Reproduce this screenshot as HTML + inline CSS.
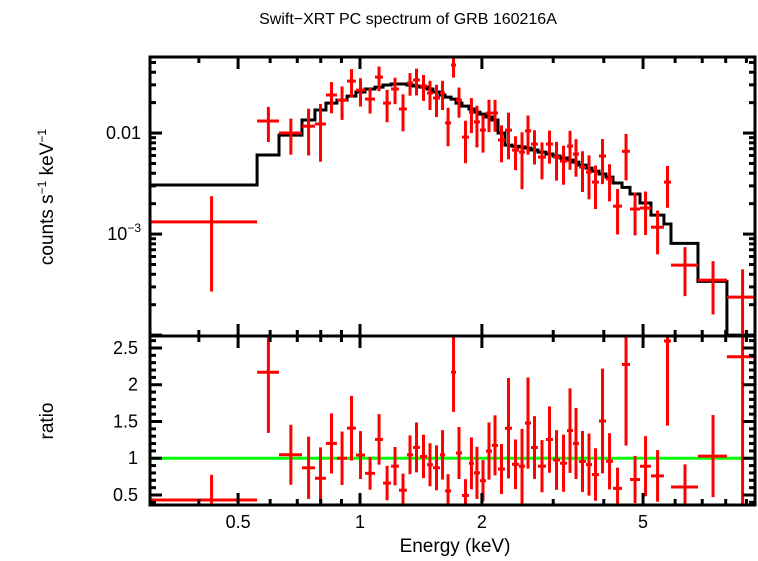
<!DOCTYPE html>
<html><head><meta charset="utf-8"><style>
body{margin:0;background:#fff;width:758px;height:556px;overflow:hidden}
svg{font-family:"Liberation Sans",sans-serif}
</style></head><body>
<svg id="chart" width="758" height="556" viewBox="0 0 758 556" xmlns="http://www.w3.org/2000/svg">
<text x="408" y="24" font-size="16" text-anchor="middle">Swift−XRT PC spectrum of GRB 160216A</text>
<text transform="translate(53,197) rotate(-90)" font-size="19" text-anchor="middle">counts s<tspan font-size="12" dy="-7">−1</tspan><tspan dy="7"> keV</tspan><tspan font-size="12" dy="-7">−1</tspan></text>
<text transform="translate(53,421) rotate(-90)" font-size="19" text-anchor="middle">ratio</text>
<text x="455" y="552" font-size="19" text-anchor="middle">Energy (keV)</text>
<g id="gtop"></g>
<g id="gbot"></g>
</svg>
<script>
// bin edges (keV), observed flux (counts/s/keV), 1-sigma error, model per bin
const binEdges=[0.303,0.557,0.631,0.719,0.774,0.824,0.877,0.929,0.977,1.029,1.089,1.140,1.193,1.248,1.306,1.352,1.406,1.464,1.514,1.576,1.622,1.678,1.726,1.786,1.858,1.911,1.978,2.047,2.118,2.192,2.280,2.373,2.470,2.555,2.644,2.751,2.879,2.996,3.118,3.245,3.357,3.473,3.614,3.740,3.892,4.050,4.215,4.436,4.642,4.914,5.230,5.631,5.861,6.833,8.056,9.555];
const fluxValues=[0.00132,0.01315,0.0100,0.0117,0.0123,0.0238,0.0212,0.0327,0.0266,0.0217,0.0358,0.0198,0.0273,0.0173,0.0313,0.0335,0.0292,0.0249,0.0222,0.0249,0.0126,0.0471,0.0212,0.00913,0.0161,0.0129,0.0107,0.0158,0.0158,0.00853,0.0107,0.00679,0.00648,0.0105,0.00778,0.00578,0.00778,0.00578,0.00528,0.00743,0.0062,0.00461,0.00411,0.00327,0.00592,0.00351,0.00189,0.0066,0.00177,0.00181,0.00117,0.00327,0.000493,0.00035,0.000238];
const fluxErrors=[0.00105,0.005,0.0039,0.0057,0.0071,0.0081,0.0077,0.0102,0.0083,0.0061,0.0098,0.007,0.008,0.0069,0.0079,0.0099,0.0084,0.008,0.0078,0.008,0.0052,0.0117,0.007,0.0041,0.0061,0.0057,0.0043,0.0056,0.0055,0.0034,0.0052,0.0025,0.0037,0.0044,0.0029,0.0023,0.0028,0.0024,0.0022,0.0031,0.0025,0.002,0.0019,0.0015,0.0028,0.0014,0.0009,0.0032,0.0008,0.00083,0.00054,0.00145,0.00025,0.00019,0.00021];
const modelValues=[0.00306,0.00606,0.00955,0.01345,0.0169,0.0198,0.0212,0.0232,0.0255,0.0273,0.0285,0.0299,0.0306,0.0306,0.0299,0.0292,0.0285,0.0273,0.0255,0.0238,0.0227,0.0217,0.0198,0.0185,0.0173,0.0161,0.0154,0.0144,0.01345,0.0100,0.0076,0.0074,0.00727,0.0071,0.00679,0.00648,0.0062,0.00592,0.00566,0.0054,0.00516,0.00482,0.0045,0.0042,0.00393,0.00366,0.0032,0.0029,0.00249,0.00203,0.00154,0.00126,0.00081,0.00034,0.0001];
const xTickLabels=[0.5,1,2,5];
const ratioTickLabels=[0.5,1,1.5,2,2.5];

const NS="http://www.w3.org/2000/svg";
const X0=150,X1=755,TY0=57,TY1=336,BY0=336,BY1=505;
const XMIN=0.303,XMAX=9.45,FMIN=9.8e-5,FMAX=0.0566,RMIN=0.364,RMAX=2.663;
const L=Math.log10;
const xs=e=>X0+(L(e)-L(XMIN))/(L(XMAX)-L(XMIN))*(X1-X0);
const ys=f=>TY1-(L(f)-L(FMIN))/(L(FMAX)-L(FMIN))*(TY1-TY0);
const yr=r=>BY1-(r-RMIN)/(RMAX-RMIN)*(BY1-BY0);
function mk(tag,attrs,parent){const e=document.createElementNS(NS,tag);for(const k in attrs)e.setAttribute(k,attrs[k]);parent.appendChild(e);return e;}
const svg=document.getElementById('chart'),gt=document.getElementById('gtop'),gb=document.getElementById('gbot');
const defs=mk('defs',{},svg);
const c1=mk('clipPath',{id:'ct'},defs);mk('rect',{x:X0,y:TY0,width:X1-X0,height:TY1-TY0},c1);
const c2=mk('clipPath',{id:'cb'},defs);mk('rect',{x:X0,y:BY0,width:X1-X0,height:BY1-BY0},c2);
const dt=mk('g',{'clip-path':'url(#ct)'},gt);
const db=mk('g',{'clip-path':'url(#cb)'},gb);
let d='';
for(let i=0;i<modelValues.length;i++){const y=ys(modelValues[i]);d+=(i===0?'M':'L')+xs(binEdges[i])+','+y+'L'+xs(binEdges[i+1])+','+y;}
d+='L'+xs(binEdges[binEdges.length-1])+','+(TY1+20);
const mp=mk('path',{d:d,fill:'none',stroke:'#000','stroke-width':3},dt);


const gl=mk('line',{x1:X0,x2:X1,y1:yr(1),y2:yr(1),stroke:'#00ff00','stroke-width':3},db);


for(let i=0;i<fluxValues.length;i++){
  const e0=binEdges[i],e1=binEdges[i+1],ec=(e0+e1)/2,f=fluxValues[i],s=fluxErrors[i],m=modelValues[i];
  const g=mk('g',{stroke:'#ff0000','stroke-width':3},dt);
  
  
  mk('line',{x1:xs(e0),x2:xs(e1),y1:ys(f),y2:ys(f)},g);
  mk('line',{x1:xs(ec),x2:xs(ec),y1:ys(f+s),y2:ys(Math.max(f-s,1e-6))},g);
  const r=f/m,rs=s/m;
  const h=mk('g',{stroke:'#ff0000','stroke-width':3},db);
  
  
  mk('line',{x1:xs(e0),x2:xs(e1),y1:yr(r),y2:yr(r)},h);
  mk('line',{x1:xs(ec),x2:xs(ec),y1:yr(r+rs),y2:yr(r-rs)},h);
}
for(const [y0,y1,p] of [[TY0,TY1,gt],[BY0,BY1,gb]]){const fr=mk('rect',{x:X0,y:y0,width:X1-X0,height:y1-y0,fill:'none',stroke:'#000','stroke-width':3},p);}
const minorX=[0.4,0.6,0.7,0.8,0.9,3,4,6,7,8,9];
function tick(p,x1,y1,x2,y2){mk('line',{x1:x1,y1:y1,x2:x2,y2:y2,stroke:'#000','stroke-width':3},p);}
for(const [y0,y1,p] of [[TY0,TY1,gt],[BY0,BY1,gb]]){
  for(const v of xTickLabels){const x=xs(v);tick(p,x,y0,x,y0+12);tick(p,x,y1,x,y1-12);}
  for(const v of minorX){const x=xs(v);tick(p,x,y0,x,y0+6);tick(p,x,y1,x,y1-6);}
}
for(const v of xTickLabels){const t=mk('text',{x:xs(v),y:528,'font-size':18,'text-anchor':'middle'},svg);t.textContent=v;}
for(const dec of [1e-4,1e-3,1e-2]){for(let k=1;k<10;k++){const v=dec*k;if(v<FMIN||v>FMAX)continue;const y=ys(v),len=k===1?12:6;tick(gt,X0,y,X0+len,y);tick(gt,X1,y,X1-len,y);}}
let t=mk('text',{x:141,y:ys(0.01)+6,'font-size':18,'text-anchor':'end'},svg);t.textContent='0.01';
t=mk('text',{x:141,y:ys(0.001)+6,'font-size':18,'text-anchor':'end'},svg);t.innerHTML='10<tspan font-size="12" dy="-8">−3</tspan>';
for(let k=4;k<=26;k++){const v=k/10,y=yr(v),len=k%5===0?12:6;tick(gb,X0,y,X0+len,y);tick(gb,X1,y,X1-len,y);}
for(const v of ratioTickLabels){const tt=mk('text',{x:138,y:yr(v)+6,'font-size':18,'text-anchor':'end'},svg);tt.textContent=v;}
</script>
</body></html>
